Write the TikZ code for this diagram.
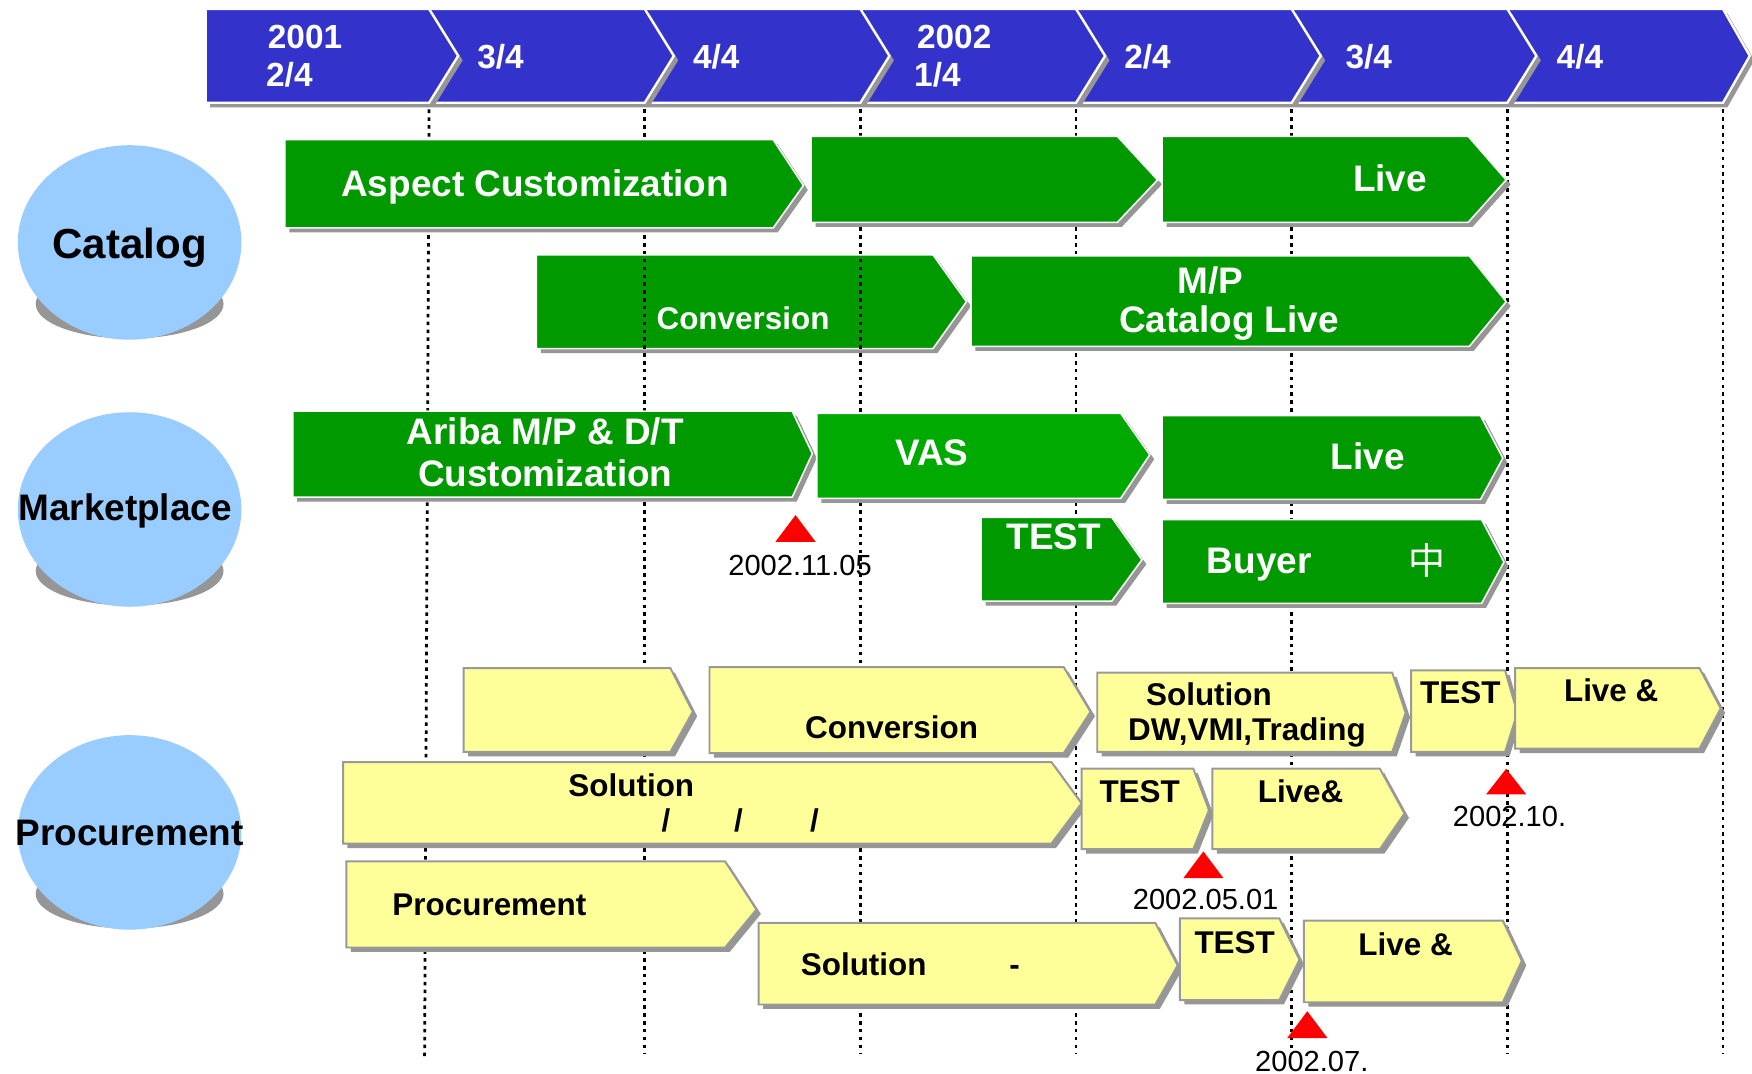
\documentclass[tikz,border=0pt]{standalone}
\usepackage{fontspec}
\setmainfont{Liberation Sans}
\newfontfamily\cjkfont{Noto Sans CJK SC}
\definecolor{hdrblue}{HTML}{3333CC}
\definecolor{grn}{HTML}{009900}
\definecolor{vasgrn}{HTML}{00AA00}
\definecolor{ylw}{HTML}{FFFF99}
\definecolor{shadowc}{HTML}{969696}
\definecolor{bordergray}{HTML}{999999}
\definecolor{ellblue}{HTML}{99CCFF}
\newcommand{\chevbox}[7]{%
  \fill[shadowc,shift={(4,4)}] (#2,#5) -- (#3,#5) -- (#4,#7) -- (#3,#6) -- (#2,#6) -- cycle;
  \filldraw[#1] (#2,#5) -- (#3,#5) -- (#4,#7) -- (#3,#6) -- (#2,#6) -- cycle;}
\newcommand{\ellshape}[1]{%
  \fill[shadowc] (116,#1+55) ellipse [x radius=0.84cm, y radius=0.31cm];
  \fill[ellblue] (116,#1) ellipse [x radius=1.0cm, y radius=0.87cm];}
\begin{document}
\begin{tikzpicture}[x=0.01cm,y=-0.01cm,
  hbox/.style={fill=hdrblue,draw=white,line width=0.6pt},
  gbox/.style={fill=grn,draw=white,line width=0.4pt},
  vbox/.style={fill=vasgrn,draw=white,line width=0.4pt},
  ybox/.style={fill=ylw,draw=bordergray,line width=0.5pt},
  hdr/.style={text=white,font=\bfseries\fontsize{8.5}{10}\selectfont,inner sep=0pt,anchor=base},
  lbl/.style={text=white,font=\bfseries\fontsize{9.4}{11}\selectfont,inner sep=0pt,anchor=base},
  slbl/.style={text=white,font=\bfseries\fontsize{8}{10}\selectfont,inner sep=0pt,anchor=base},
  ylbl/.style={text=black,font=\bfseries\fontsize{8}{10}\selectfont,inner sep=0pt,anchor=base},
  cat/.style={text=black,font=\bfseries\fontsize{9.4}{11}\selectfont,inner sep=0pt,anchor=base},
  datel/.style={text=black,font=\fontsize{7.4}{9}\selectfont,inner sep=0pt,anchor=base},
  vline/.style={black,line width=0.7pt,dash pattern=on 0.9pt off 1.1pt},
  redtri/.style={fill=red}]
\useasboundingbox[fill=white] (0,0) rectangle (1568,961);

% header chevrons, right to left
\chevbox{hbox}{1349}{1542}{1566}{8}{92}{50}
\chevbox{hbox}{1156}{1349}{1375}{8}{92}{50}
\chevbox{hbox}{963}{1156}{1182}{8}{92}{50}
\chevbox{hbox}{770}{963}{989}{8}{92}{50}
\chevbox{hbox}{577}{770}{796}{8}{92}{50}
\chevbox{hbox}{384}{577}{603}{8}{92}{50}
\chevbox{hbox}{184}{384}{410}{8}{92}{50}
\node[hdr] (h1a) at (273,43) {2001};
\node[hdr] (h1b) at (259,77) {2/4};
\node[hdr] (h2) at (448,61) {3/4};
\node[hdr] (h3) at (641,61) {4/4};
\node[hdr] (h4a) at (854,43) {2002};
\node[hdr] (h4b) at (839,77) {1/4};
\node[hdr] (h5) at (1027,61) {2/4};
\node[hdr] (h6) at (1225,61) {3/4};
\node[hdr] (h7) at (1414,61) {4/4};

% category ellipses
\ellshape{217}
\ellshape{456}
\ellshape{745}
\node[cat,font=\bfseries\fontsize{10.7}{12}\selectfont] (catalog) at (116,231) {Catalog};
\node[cat] (market) at (112,466) {Marketplace};
\node[cat] (procure) at (116,757) {Procurement};

% green conversion box (dotted lines pass over it)
\chevbox{gbox}{480}{835}{865}{228}{312}{270}

% dotted quarter lines
\coordinate (l1t) at (384,98); \coordinate (l1b) at (380,949);
\draw[vline] (l1t) -- (l1b);
\foreach \xx [count=\i] in {577,770,963,1156,1349,1542}{
  \coordinate (lt\i) at (\xx,98); \coordinate (lb\i) at (\xx,943);
  \draw[vline] (lt\i) -- (lb\i);
}

% catalog boxes
\chevbox{gbox}{255}{692}{719}{125}{204}{166}
\chevbox{gbox}{726}{1000}{1036}{122}{199}{161}
\chevbox{gbox}{1040}{1314}{1348}{122}{199}{161}
\chevbox{gbox}{869}{1315}{1348}{229}{310}{270}
\node[lbl] (aspect) at (479,176) {Aspect Customization};
\node[lbl] (catlive) at (1244,171) {Live};
\node[slbl] (catconv) at (665,295) {Conversion};
\node[lbl] (mp) at (1083,263) {M/P};
\node[lbl] (mplive) at (1100,298) {Catalog Live};

% marketplace boxes
\chevbox{gbox}{262}{709}{727}{368}{445}{406}
\chevbox{vbox}{731}{1003}{1029}{370}{446}{407}
\chevbox{gbox}{1040}{1325}{1345}{372}{447}{410}
\chevbox{gbox}{878}{995}{1022}{463}{538}{501}
\chevbox{gbox}{1040}{1326}{1346}{465}{540}{503}
\node[lbl] (ariba1) at (488,398) {Ariba M/P \& D/T};
\node[lbl] (ariba2) at (488,435) {Customization};
\node[lbl] (vas) at (834,417) {VAS};
\node[lbl] (mklive) at (1224,420) {Live};
\node[lbl] (mktest) at (943,492) {TEST};
\node[lbl] (buyer) at (1127,513) {Buyer};
\node[lbl,font=\cjkfont\fontsize{9.4}{11}\selectfont] (zhong) at (1277,514) {中};

% procurement boxes
\chevbox{ybox}{415}{600}{620}{598}{673}{637}
\chevbox{ybox}{635}{952}{976}{597}{674}{637}
\chevbox{ybox}{982}{1246}{1258}{602}{673}{638}
\chevbox{ybox}{1263}{1347}{1358}{600}{673}{638}
\chevbox{ybox}{1356}{1521}{1540}{598}{670}{634}
\chevbox{ybox}{307}{941}{968}{682}{755}{719}
\chevbox{ybox}{968}{1068}{1082}{688}{760}{725}
\chevbox{ybox}{1085}{1235}{1257}{688}{760}{728}
\chevbox{ybox}{310}{649}{677}{771}{848}{814}
\chevbox{ybox}{679}{1034}{1054}{826}{899}{864}
\chevbox{ybox}{1056}{1145}{1163}{822}{895}{859}
\chevbox{ybox}{1167}{1345}{1362}{824}{897}{860}
\node[ylbl] (pconv) at (798,661) {Conversion};
\node[ylbl] (psol1) at (1082,631) {Solution};
\node[ylbl] (psol2) at (1116,663) {DW,VMI,Trading};
\node[ylbl] (ptest1) at (1307,630) {TEST};
\node[ylbl] (plive1) at (1442,628) {Live \&};
\node[ylbl] (psol3) at (565,713) {Solution};
\node[ylbl] (sl1) at (596,744) {/};
\node[ylbl] (sl2) at (661,744) {/};
\node[ylbl] (sl3) at (729,744) {/};
\node[ylbl] (ptest2) at (1020,718) {TEST};
\node[ylbl] (plive2) at (1164,718) {Live\&};
\node[ylbl] (pproc) at (438,819) {Procurement};
\node[ylbl] (psol4) at (773,873) {Solution};
\node[ylbl] (pdash) at (908,873) {-};
\node[ylbl] (ptest3) at (1105,853) {TEST};
\node[ylbl] (plive3) at (1258,855) {Live \&};

% milestones
\fill[redtri] (712,461) -- (730,485) -- (694,485) -- cycle;
\fill[redtri] (1077,762) -- (1095,786) -- (1059,786) -- cycle;
\fill[redtri] (1348,688) -- (1366,711) -- (1330,711) -- cycle;
\fill[redtri] (1170,905) -- (1188,929) -- (1152,929) -- cycle;
\node[datel] (d1) at (716,515) {2002.11.05};
\node[datel] (d2) at (1079,814) {2002.05.01};
\node[datel] (d3) at (1351,740) {2002.10.};
\node[datel] (d4) at (1174,959) {2002.07.};
\end{tikzpicture}
\end{document}
